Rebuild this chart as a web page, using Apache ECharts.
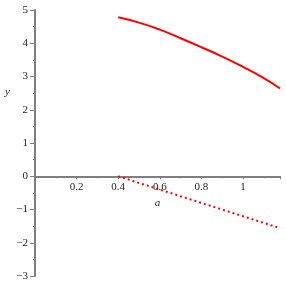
<!DOCTYPE html>
<html><head><meta charset="utf-8">
<script src="https://cdn.jsdelivr.net/npm/echarts@6/dist/echarts.min.js"></script>
<style>html,body{margin:0;padding:0;background:#fff}#c{width:286px;height:286px}</style>
</head><body><div id="c"></div>
<script>
var curveA = [0.4, 0.5, 0.6, 0.7, 0.8, 0.9, 1.0, 1.1, 1.178];
var curveY = [4.78, 4.62, 4.41, 4.15, 3.88, 3.60, 3.29, 2.95, 2.64];
var lineA = [0.4, 1.178];
var lineY = [0, -1.56];
var xTicks = [0.2, 0.4, 0.6, 0.8, 1];
var yTicks = [-3, -2, -1, 0, 1, 2, 3, 4, 5];
var yMin = -3, yMax = 5;

var font = '"Liberation Serif", "DejaVu Serif", serif';
var axisColor = '#7f7f7f';
function zip(a, b){ return a.map(function(v,i){ return [v, b[i]]; }); }

var gridTop = 10, gridBottom = 10, H = 286;
var plotH = H - gridTop - gridBottom;
var zeroOffset = -plotH * (0 - yMin) / (yMax - yMin);

var chart = echarts.init(document.getElementById('c'));
chart.setOption({
  animation: false,
  grid: {left: 35, right: 6, top: gridTop, bottom: gridBottom, containLabel: false, outerBoundsMode: 'none'},
  xAxis: {
    type: 'value', min: 0, max: 1.178, interval: 0.2,
    offset: zeroOffset,
    axisLine: {onZero: false, lineStyle: {color: axisColor, width: 2}},
    axisTick: {show: true, length: 3, lineStyle: {color: axisColor, width: 1}},
    minorTick: {show: true, splitNumber: 2, length: 2, lineStyle: {color: axisColor}},
    splitLine: {show: false},
    axisLabel: {
      showMinLabel: false, showMaxLabel: false, margin: 5,
      color: '#222', fontFamily: font, fontSize: 11,
      formatter: function(v){ var r = Math.round(v*10)/10; return xTicks.indexOf(r) >= 0 ? String(r) : ''; }
    },
    name: 'a', nameLocation: 'middle', nameGap: 17,
    nameTextStyle: {fontFamily: font, fontStyle: 'italic', fontSize: 11, color: '#222'}
  },
  yAxis: {
    type: 'value', min: yMin, max: yMax, interval: 1,
    axisLine: {show: true, onZero: false, lineStyle: {color: axisColor, width: 2}},
    axisTick: {show: true, length: 5, lineStyle: {color: axisColor, width: 1}},
    minorTick: {show: true, splitNumber: 2, length: 2, lineStyle: {color: axisColor}},
    splitLine: {show: false},
    axisLabel: {
      margin: 7, color: '#222', fontFamily: font, fontSize: 11,
      formatter: function(v){ return yTicks.indexOf(v) >= 0 ? String(v).replace('-', '\u2212') : ''; }
    }
  },
  graphic: [{
    type: 'text', left: 5, top: 87,
    style: {text: 'y', font: 'italic 11px ' + font, fill: '#222'}
  }],
  series: [
    {type: 'line', data: zip(curveA, curveY), smooth: true, showSymbol: false,
     lineStyle: {color: '#ff0000', width: 2}},
    {type: 'line', data: zip(lineA, lineY), showSymbol: false,
     lineStyle: {color: '#ff0000', width: 2, type: [2, 3]}}
  ]
});
</script></body></html>
